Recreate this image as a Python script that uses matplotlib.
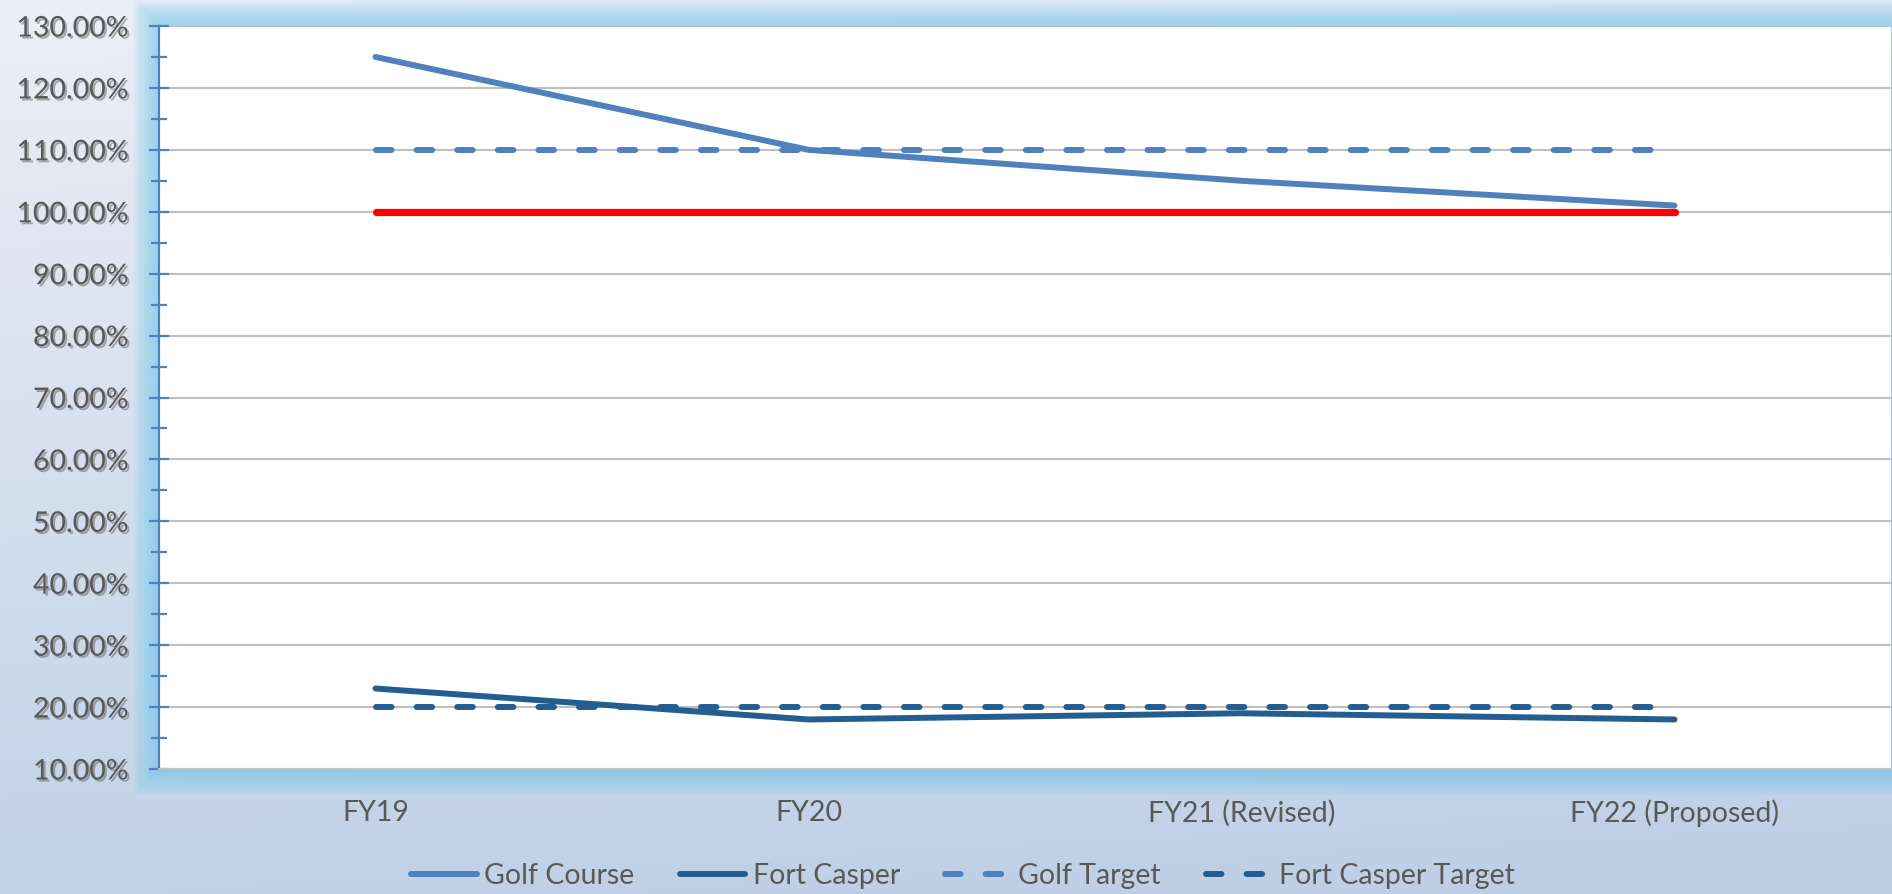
import numpy as np
import matplotlib
matplotlib.use('Agg')
from matplotlib import pyplot as plt
from matplotlib import patheffects as pe
from matplotlib.patches import Rectangle
from matplotlib.lines import Line2D
from matplotlib.ticker import MultipleLocator, FuncFormatter

categories = ['FY19', 'FY20', 'FY21 (Revised)', 'FY22 (Proposed)']
golf_course = [125, 110, 105, 101]
fort_casper = [23, 18, 19, 18]
golf_target = [110, 110, 110, 110]
fort_casper_target = [20, 20, 20, 20]
break_even = [100, 100, 100, 100]

plt.rcParams['font.family'] = ['Lato', 'DejaVu Sans']

fig = plt.figure(figsize=(18.92, 8.94), dpi=100)

# background gradient
bg = fig.add_axes([0, 0, 1, 1], zorder=-10)
ny, nx = 200, 200
yy, xx = np.mgrid[0:1:ny * 1j, 0:1:nx * 1j]
top = np.array([0.925, 0.937, 0.965])
bot = np.array([0.74, 0.81, 0.90])
t = np.clip(yy * 0.9 + xx * 0.1, 0, 1)[..., None]
img = top * (1 - t) + bot * t
bg.imshow(img, extent=[0, 1, 0, 1], aspect='auto', origin='upper')
bg.set_xlim(0, 1)
bg.set_ylim(0, 1)
bg.axis('off')

L, B, R, T = 159 / 1892, 1 - 769 / 894, 1891 / 1892, 1 - 26 / 894

# cyan glow around plot area
for i in range(12):
    pad = (12 - i) * 2.2
    bg.add_patch(Rectangle((L - pad / 1892, B - pad / 894),
                           (R - L) + 2 * pad / 1892, (T - B) + 2 * pad / 894,
                           facecolor='#6cc8ec', edgecolor='none', alpha=0.07))

ax = fig.add_axes([L, B, R - L, T - B])
ax.set_facecolor('white')
x = np.arange(len(categories))

dash = (2.6, 4.2)
ax.plot(x, break_even, color='#ff0000', lw=5.2, solid_capstyle='round', zorder=3)
ax.plot(x, golf_course, color='#4f81bd', lw=4.3, solid_capstyle='round', zorder=4)
ax.plot(x, fort_casper, color='#245e91', lw=4.3, solid_capstyle='round', zorder=4)
ax.plot(x, golf_target, color='#4f81bd', lw=4.3, dashes=dash,
        dash_capstyle='round', zorder=4)
ax.plot(x, fort_casper_target, color='#245e91', lw=4.3, dashes=dash,
        dash_capstyle='round', zorder=4)

ax.set_xlim(-0.5, 3.5)
ax.set_ylim(10, 130)
ax.yaxis.set_major_locator(MultipleLocator(10))
ax.yaxis.set_minor_locator(MultipleLocator(5))
ax.yaxis.set_major_formatter(FuncFormatter(lambda v, p: f'{v:.2f}%'))
ax.grid(axis='y', color='#bfbfbf', lw=1.5, zorder=1)
ax.set_axisbelow(True)
ax.set_xticks(x)
ax.set_xticklabels(categories)

for s in ['top', 'right']:
    ax.spines[s].set_visible(False)
ax.spines['bottom'].set_color('#c0c0c0')
ax.spines['bottom'].set_linewidth(1.5)
ax.spines['left'].set_color('#4f81bd')
ax.spines['left'].set_linewidth(1.6)

ax.tick_params(axis='y', which='major', direction='inout', length=15, width=1.6,
               color='#4f81bd', labelsize=20.5, labelcolor='#595959', pad=14)
ax.tick_params(axis='y', which='minor', direction='inout', length=11, width=1.6,
               color='#4f81bd')
ax.tick_params(axis='x', length=0, labelsize=20.5, labelcolor='#595959', pad=22)

shadow = [pe.withSimplePatchShadow(offset=(1.5, -1.5), shadow_rgbFace='#555555', alpha=0.45)]
for lab in ax.get_yticklabels():
    lab.set_path_effects(shadow)

handles = [
    Line2D([], [], color='#4f81bd', lw=4.3, solid_capstyle='round'),
    Line2D([], [], color='#245e91', lw=4.3, solid_capstyle='round'),
    Line2D([], [], color='#4f81bd', lw=4.3, dashes=dash, dash_capstyle='round'),
    Line2D([], [], color='#245e91', lw=4.3, dashes=dash, dash_capstyle='round'),
]
labels = ['Golf Course', 'Fort Casper', 'Golf Target', 'Fort Casper Target']
fig.legend(handles, labels, loc='center', bbox_to_anchor=(0.509, 1 - 876 / 894),
           ncol=4, frameon=False, fontsize=20.5, labelcolor='#595959',
           handlelength=2.3, handletextpad=0.25, columnspacing=1.6)

fig.savefig('out.png', dpi=100)
